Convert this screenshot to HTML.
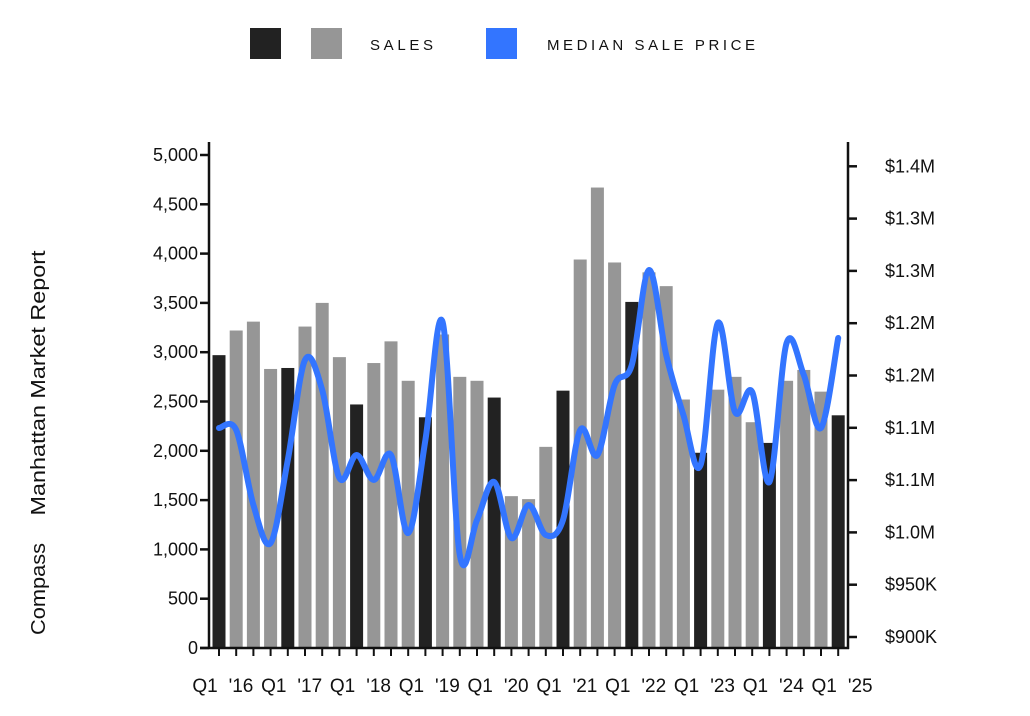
<!DOCTYPE html>
<html><head><meta charset="utf-8"><style>
html,body{margin:0;padding:0;background:#fff;}
svg{display:block;font-family:"Liberation Sans",sans-serif;}
</style></head><body>
<svg id="s" width="1030" height="716" viewBox="0 0 1030 716" xmlns="http://www.w3.org/2000/svg">
<rect x="250" y="28" width="31" height="31" fill="#222"/>
<rect x="311" y="28" width="31" height="31" fill="#969696"/>
<text x="370" y="50" font-size="15" textLength="63" lengthAdjust="spacing" fill="#111">SALES</text>
<rect x="486" y="28" width="31" height="31" fill="#3375FF"/>
<text x="547" y="50" font-size="15" textLength="208" lengthAdjust="spacing" fill="#111">MEDIAN SALE PRICE</text>
<text transform="translate(45,383) rotate(-90)" text-anchor="middle" font-size="20" textLength="265" lengthAdjust="spacingAndGlyphs" fill="#111">Manhattan Market Report</text>
<text transform="translate(45,589) rotate(-90)" text-anchor="middle" font-size="20" textLength="92" lengthAdjust="spacingAndGlyphs" fill="#111">Compass</text>
<g id="bars"></g>
<g id="axes" stroke="#111" stroke-width="2.5" fill="none"></g>
<g id="labels" font-size="18" fill="#111"></g>
<path id="line" fill="none" stroke="#3375FF" stroke-width="6" stroke-linecap="round" stroke-linejoin="round"/>
</svg>
<script>
var NS="http://www.w3.org/2000/svg";
function el(p,t,a,txt){var e=document.createElementNS(NS,t);for(var k in a)e.setAttribute(k,a[k]);if(txt!=null)e.textContent=txt;p.appendChild(e);return e;}
var vals=[2970,3220,3310,2830,2840,3260,3500,2950,2470,2890,3110,2710,2340,3180,2750,2710,2540,1540,1510,2040,2610,3940,4670,3910,3510,3810,3670,2520,1980,2620,2750,2290,2080,2710,2820,2600,2360];
var bars=document.getElementById('bars');
var base=648,sc=0.0986,step=17.2,x0=219;
vals.forEach(function(v,i){var h=v*sc;el(bars,'rect',{x:x0-6.5+step*i,y:base-h,width:13,height:h,fill:(i%4==0)?'#222':'#969696'});});
var ax=document.getElementById('axes');
el(ax,'line',{x1:209,y1:142,x2:209,y2:649});
el(ax,'line',{x1:200,y1:648,x2:849,y2:648});
el(ax,'line',{x1:848,y1:142,x2:848,y2:649});
var lb=document.getElementById('labels');
for(var k=0;k<=10;k++){var y=base-k*500*sc;el(ax,'line',{x1:200,y1:y,x2:209,y2:y});
el(lb,'text',{x:198,y:y+6,'text-anchor':'end'},k==0?'0':(k*500).toLocaleString('en-US'));}
var rl=['$900K','$950K','$1.0M','$1.1M','$1.1M','$1.2M','$1.2M','$1.3M','$1.3M','$1.4M'];
for(var k=0;k<10;k++){var y=637-k*52.3;el(ax,'line',{x1:848,y1:y,x2:857,y2:y});
el(lb,'text',{x:885,y:y+6},rl[k]);}
for(var i=0;i<37;i++){var x=x0+step*i;el(ax,'line',{x1:x,y1:648,x2:x,y2:656,'stroke-width':2});}
for(var k=0;k<10;k++){el(lb,'text',{x:205+68.8*k,y:692,'text-anchor':'middle','font-size':19},'Q1');
el(lb,'text',{x:241+68.8*k,y:692,'text-anchor':'middle','font-size':19},"'"+(16+k));}
var ly=[428,430,505,543,460,360,390,478,455,480,455,533,440,322,555,520,482,538,505,535,520,430,455,385,365,270,355,415,465,323,412,392,482,343,375,428,338];
var pts=ly.map(function(y,i){return [x0+step*i,y];});
var d='M'+pts[0][0]+','+pts[0][1];
for(var i=0;i<pts.length-1;i++){var p0=pts[i-1]||pts[i],p1=pts[i],p2=pts[i+1],p3=pts[i+2]||p2;
var c1=[p1[0]+(p2[0]-p0[0])/6,p1[1]+(p2[1]-p0[1])/6],c2=[p2[0]-(p3[0]-p1[0])/6,p2[1]-(p3[1]-p1[1])/6];
d+=' C'+c1[0]+','+c1[1]+' '+c2[0]+','+c2[1]+' '+p2[0]+','+p2[1];}
document.getElementById('line').setAttribute('d',d);
</script>
</body></html>
